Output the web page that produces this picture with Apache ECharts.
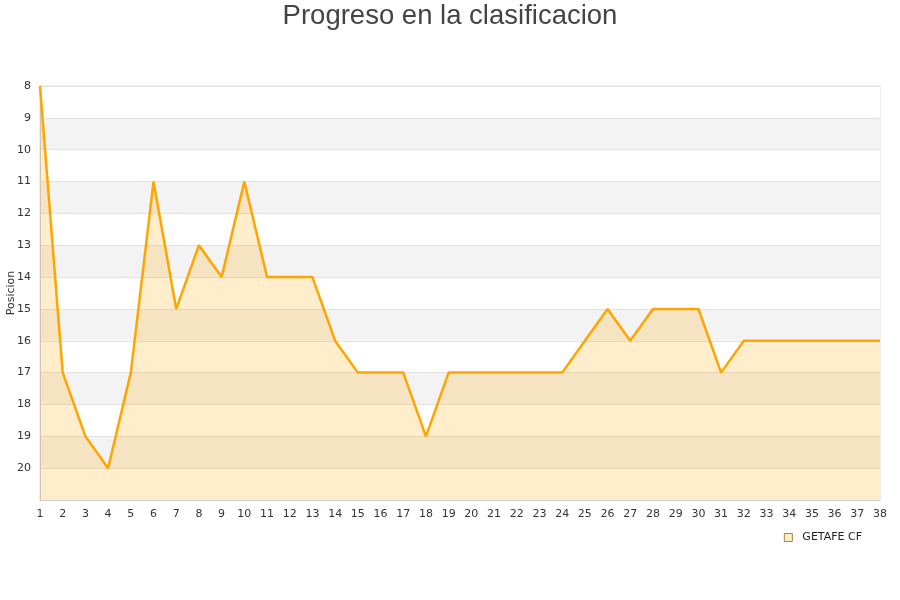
<!DOCTYPE html>
<html>
<head>
<meta charset="utf-8">
<script src="https://cdn.jsdelivr.net/npm/echarts@6/dist/echarts.min.js"></script>
<style>html,body{margin:0;padding:0;background:#fff}#c{width:900px;height:600px}</style>
</head>
<body>
<div id="c"></div>
<script>
var jornadas = [];
for (var i = 1; i <= 38; i++) jornadas.push(String(i));
var posiciones = [8,17,19,20,17,11,15,13,14,11,14,14,14,16,17,17,17,19,17,17,17,17,17,17,16,15,16,15,15,15,17,16,16,16,16,16,16,16];
var equipo = 'GETAFE CF';
var chart = echarts.init(document.getElementById('c'));
chart.setOption({
  animation: false,
  title: {
    text: 'Progreso en la clasificacion',
    left: 'center', top: -3,
    textStyle: {fontFamily: 'Liberation Sans, Arial, sans-serif', fontSize: 27.5, fontWeight: 'normal', color: '#444'}
  },
  grid: {left: 40, right: 20, top: 86, bottom: 100, containLabel: false, outerBoundsMode: 'none', show: true, borderColor: '#ddd', borderWidth: 1, backgroundColor: 'transparent'},
  legend: {
    data: [{name: equipo, icon: 'rect', itemStyle: {color: '#ffedcc', borderColor: '#b08040', borderWidth: 1}}],
    right: 33, top: 527, itemWidth: 8, itemHeight: 8, itemGap: 10,
    textStyle: {fontFamily: 'DejaVu Sans, sans-serif', fontSize: 11, color: '#222', padding: [0, 0, 0, 5]}
  },
  xAxis: {
    type: 'category', data: jornadas, boundaryGap: false,
    axisLine: {show: true, lineStyle: {color: '#ccc'}},
    axisTick: {show: false},
    axisLabel: {interval: 0, color: '#333', fontSize: 11, fontFamily: 'DejaVu Sans, sans-serif', margin: 9},
    splitLine: {show: false}
  },
  yAxis: {
    type: 'value', inverse: true, min: 8, max: 21, interval: 1,
    name: 'Posicion', nameLocation: 'middle', nameGap: 23, nameMoveOverlap: false,
    nameTextStyle: {fontFamily: 'DejaVu Sans, sans-serif', fontSize: 11, color: '#333'},
    axisLine: {show: true, lineStyle: {color: '#ccc'}},
    axisTick: {show: false},
    axisLabel: {color: '#333', fontSize: 11, fontFamily: 'DejaVu Sans, sans-serif', margin: 9,
      formatter: function (v) { return v === 21 ? '' : String(v); }},
    splitLine: {show: true, lineStyle: {color: '#e2e2e2'}},
    splitArea: {show: true, areaStyle: {color: ['#ffffff', '#f3f3f3']}}
  },
  series: [{
    name: equipo, type: 'line', data: posiciones,
    symbol: 'none',
    lineStyle: {color: '#ffa500', width: 2.5},
    itemStyle: {color: '#ffa500'},
    areaStyle: {color: 'rgba(255,165,0,0.2)', opacity: 1, origin: 'end'}
  }]
});
</script>
</body>
</html>
